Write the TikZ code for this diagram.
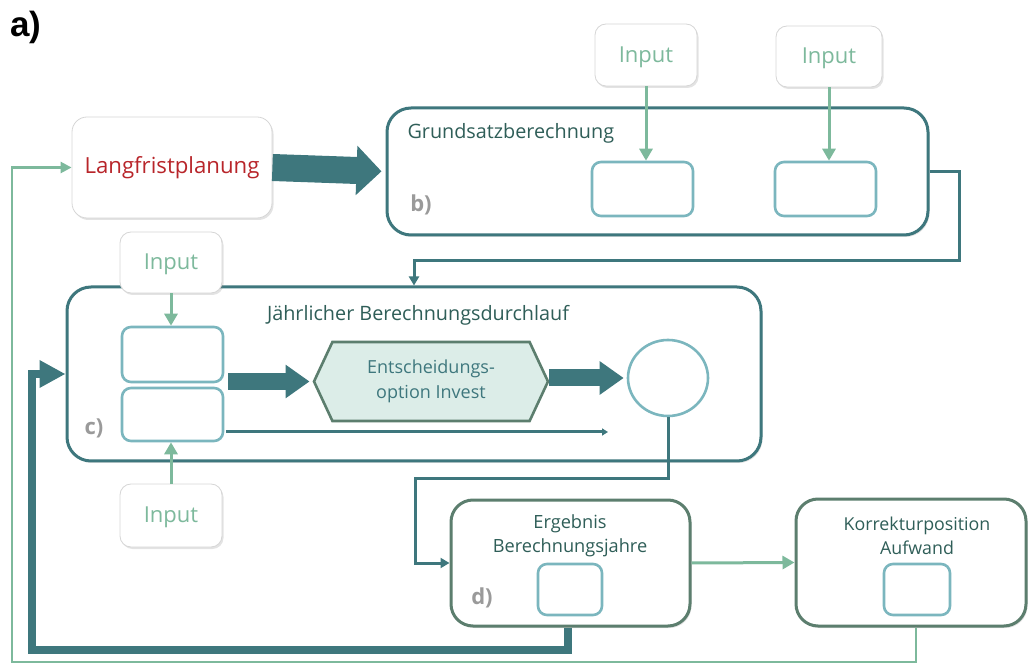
\documentclass[tikz,border=0pt]{standalone}
\usepackage{fontspec}
\setmainfont{Open Sans}
\newfontfamily\arialf{Liberation Sans}
\usetikzlibrary{arrows.meta,shapes.geometric,shapes.symbols,shadows,calc}
\definecolor{dteal}{HTML}{3E777D}
\definecolor{lteal}{HTML}{7BB6BE}
\definecolor{lgreen}{HTML}{7DB99C}
\definecolor{dgreen}{HTML}{5C7E6E}
\definecolor{hexfill}{HTML}{DCEDE8}
\definecolor{txtdark}{HTML}{2F5E58}
\definecolor{txtred}{HTML}{B8252A}
\definecolor{lblgrey}{HTML}{9A9A9A}
\definecolor{bordergrey}{HTML}{D6D6D6}
\tikzset{
  shad/.style={drop shadow={opacity=0.22,shadow xshift=1.5pt,shadow yshift=-2pt}},
  softbox/.style={draw=bordergrey,line width=0.8pt,fill=white,rounded corners=11pt,shad,inner sep=0pt},
  inputbox/.style={softbox,minimum width=102pt,minimum height=62pt,text=lgreen,font=\fontsize{22}{26}\selectfont,text height=18pt,text depth=3.6pt},
  bigbox/.style={draw=dteal,line width=3pt,fill=white,rounded corners=24pt,shad,inner sep=0pt},
  greenbox/.style={draw=dgreen,line width=3pt,fill=white,rounded corners=22pt,shad,inner sep=0pt},
  innerbox/.style={draw=lteal,line width=2.6pt,fill=white,rounded corners=9pt,inner sep=0pt},
  inarrow/.style={draw=lgreen,line width=3pt,-{Triangle[length=12pt,width=13pt]}},
  tealconn/.style={draw=dteal,line width=3pt,-{Triangle[length=9pt,width=10pt]}},
  bigarrow/.style={draw=dteal,line width=17pt,-{Triangle[length=24pt,width=32pt]}},
  lbl/.style={text=lblgrey,font=\bfseries\fontsize{22}{26}\selectfont},
  ttl/.style={text=txtdark,font=\fontsize{19.8}{22}\selectfont},
  boxtxt/.style={text=txtdark,align=center,font=\fontsize{17.8}{24}\selectfont},
}
\begin{document}
\begin{tikzpicture}[x=1pt,y=-1pt]
\useasboundingbox (0,0) rectangle (1029,668);
% label a)
\node[anchor=center,font=\arialf\bfseries\fontsize{35}{38}\selectfont] (la) at (26,27) {a)};
% Langfristplanung
\node[softbox,minimum width=200pt,minimum height=101pt,rounded corners=15pt,text=txtred,font=\fontsize{22.2}{26}\selectfont] (lang) at (172,167.5) {Langfristplanung};
% box b
\node[bigbox,minimum width=541pt,minimum height=127pt] (b) at (657.5,171.5) {};
\node[ttl,anchor=west] (bt) at (404,133) {Grundsatzberechnung};
\node[lbl] (bl) at (421,205) {b)};
\node[innerbox,minimum width=101pt,minimum height=54pt] (bi1) at (642.5,189) {};
\node[innerbox,minimum width=101pt,minimum height=54pt] (bi2) at (825.5,189) {};
\node[inputbox] (in1) at (646,55) {Input};
\node[inputbox,minimum width=106pt,minimum height=61pt] (in2) at (829,56.5) {Input};
% box c
\node[bigbox,minimum width=694pt,minimum height=174pt] (c) at (414,374) {};
\node[ttl] (ct) at (418,315) {Jährlicher Berechnungsdurchlauf};
\node[lbl] (cl) at (94,428) {c)};
\node[inputbox,minimum height=61pt] (inc1) at (171,262.5) {Input};
\node[innerbox,minimum width=101pt,minimum height=55pt] (ci1) at (172.5,354.5) {};
\node[innerbox,minimum width=101pt,minimum height=53pt] (ci2) at (172.5,414.5) {};
\node[signal,signal to=west and east,signal pointer angle=130,draw=dgreen,line width=2.6pt,fill=hexfill,minimum width=234pt,minimum height=79pt,inner sep=0pt,text=dteal,align=center,font=\fontsize{18}{25}\selectfont] (hex) at (431,381.5) {Entscheidungs-\\option Invest};
\node[ellipse,draw=lteal,line width=2.6pt,fill=white,minimum width=80pt,minimum height=76pt,inner sep=0pt] (circ) at (668,378) {};
\node[inputbox,minimum height=63pt] (inc2) at (171,515.5) {Input};
% box d
\node[greenbox,minimum width=239pt,minimum height=126pt] (d) at (570.5,563) {};
\node[boxtxt,font=\fontsize{18.2}{24}\selectfont] (dt) at (570,536) {Ergebnis\\Berechnungsjahre};
\node[lbl] (dl) at (482,598) {d)};
\node[innerbox,minimum width=64pt,minimum height=51pt] (di) at (570,589.5) {};
% box e
\node[greenbox,minimum width=230pt,minimum height=127pt] (e) at (911,562.5) {};
\node[boxtxt] (et) at (917,536) {Korrekturposition\\Aufwand};
\node[innerbox,minimum width=66pt,minimum height=51pt] (ei) at (917,589.5) {};
\coordinate (thinend) at (608,432);
% connectors
\draw[draw=dteal,line width=27pt,-{Triangle[length=25pt,width=48pt]},shorten >=4pt] (lang.east) -- (b.west);
\draw[inarrow] (in1.south) -- (in1.south |- bi1.north);
\draw[inarrow] (in2.south) -- (in2.south |- bi2.north);
\draw[tealconn] (b.east) -- ++(30,0) |- ([yshift=25pt]c.north) -- (c.north);
\draw[inarrow] (inc1.south) -- (inc1.south |- ci1.north);
\draw[inarrow] (inc2.north) -- (inc2.north |- ci2.south);
\draw[bigarrow] ([xshift=4pt]hex.west -| ci1.east) -- ([xshift=-3pt]hex.west);
\draw[bigarrow] (hex.east |- circ.west) -- ([xshift=-3pt]circ.west);
\draw[draw=dteal,line width=3pt,-{Triangle[length=6pt,width=7pt]}] ([xshift=2pt,yshift=-17.5pt]ci2.east) -- (thinend);
\draw[tealconn] (circ.south) -- (668,478) -- (415,478) |- (d.west);
\draw[draw=lgreen,line width=3pt,-{Triangle[length=12pt,width=13pt]}] (d.east) -- (e.west);
\draw[draw=dteal,line width=8pt,-{Triangle[length=26pt,width=26pt]}] ([xshift=-2.5pt]d.south) |- (32,650) |- (c.west);
\draw[draw=lgreen,line width=2.5pt,-{Triangle[length=11pt,width=11pt]}] ([xshift=5pt]e.south) |- (12,662) |- (lang.west);
\end{tikzpicture}
\end{document}
